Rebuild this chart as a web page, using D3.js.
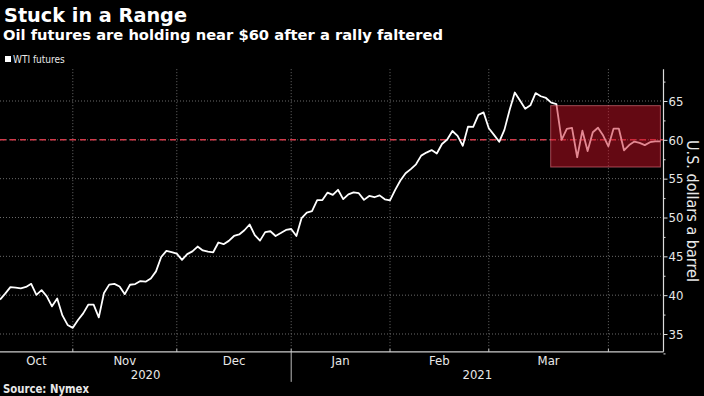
<!DOCTYPE html>
<html lang="en">
<head>
<meta charset="UTF-8">
<title>Stuck in a Range</title>
<style>
  body { margin:0; background:#000; }
  svg { display:block; background:#000; }
  text { fill:#e8e8e8; }
  .title { font-family:"DejaVu Sans", sans-serif; font-weight:bold; fill:#fff; }
  .cond { font-family:"DejaVu Sans Condensed", "DejaVu Sans", sans-serif; }
  .grid line { stroke:#6a6a6a; stroke-dasharray:1,2; }
</style>
</head>
<body>
<svg id="chart" width="704" height="396"></svg>
<script src="https://cdn.jsdelivr.net/npm/d3@7"></script>
<script>
// WTI futures settles, trading days from mid-Oct 2020 to mid-Apr 2021
var oct2020 = [39.43, 40.20, 41.04, 40.96, 40.88, 41.06, 41.46, 40.03, 40.64, 39.85, 38.56, 39.57, 37.39, 36.17, 35.79];
var nov2020 = [36.81, 37.66, 38.79, 38.79, 37.14, 40.29, 41.36, 41.45, 41.12, 40.13, 41.34, 41.43, 41.82, 41.74, 42.15, 43.06, 44.91, 45.71, 45.53, 45.34];
var dec2020 = [44.55, 45.28, 45.64, 46.26, 45.76, 45.60, 45.52, 46.78, 46.57, 46.99, 47.62, 47.82, 48.36, 49.10, 47.74, 47.02, 48.12, 48.23, 47.62, 48.00, 48.40, 48.52];
var jan2021 = [47.62, 49.93, 50.63, 50.83, 52.24, 52.25, 53.21, 52.91, 53.57, 52.36, 52.98, 53.24, 53.13, 52.27, 52.77, 52.61, 52.85, 52.34, 52.20];
var feb2021 = [53.55, 54.76, 55.69, 56.23, 56.85, 57.97, 58.36, 58.68, 58.24, 59.47, 60.05, 61.14, 60.52, 59.24, 61.70, 61.67, 63.22, 63.53, 61.50];
var mar2021 = [60.64, 59.75, 61.28, 63.83, 66.09, 65.05, 64.01, 64.44, 66.02, 65.61, 65.39, 64.80, 64.60, 60.00, 61.42, 61.55, 57.76, 61.18, 58.56, 60.97, 61.56, 60.55, 59.16];
var apr2021 = [61.45, 61.45, 58.65, 59.33, 59.77, 59.60, 59.32, 59.70, 59.80, 59.80];

var months = [oct2020, nov2020, dec2020, jan2021, feb2021, mar2021, apr2021];
var monthLabels = ['Oct', 'Nov', 'Dec', 'Jan', 'Feb', 'Mar', ''];
var yearLabels = ['2020', '2021'];
var yearStartMonth = [0, 3];        // index into months where each year starts
var yTicks = [35, 40, 45, 50, 55, 60, 65];
var yMinorTicks = [32.5, 37.5, 42.5, 47.5, 52.5, 57.5, 62.5, 67.5];
var refLevel = 60;
var rangeBox = {fromMonth: 5, fromDay: 11, low: 56.5, high: 64.4};  // Mar 16 onward

var prices = [].concat.apply([], months);

// month ends (index of last trading day in each month)
var monthEnds = [];
var acc = 0;
months.forEach(function(m){ acc += m.length; monthEnds.push(acc - 1); });

var svg = d3.select('#chart');
var axisX = 663.5;

var x = d3.scaleLinear().domain([0, prices.length - 1]).range([0, 660.4]);
var y = d3.scaleLinear().domain([35, 65]).range([334, 101]);
var yTop = y(69.1), yBot = y(32.7);

// horizontal grid
svg.append('g').attr('class', 'grid')
  .selectAll('line').data(yTicks).enter().append('line')
  .attr('x1', 0).attr('x2', axisX)
  .attr('y1', d => y(d)).attr('y2', d => y(d));

// vertical grid at month boundaries
var bounds = monthEnds.slice(0, -1);
svg.append('g').attr('class', 'grid')
  .selectAll('line').data(bounds).enter().append('line')
  .attr('x1', d => x(d)).attr('x2', d => x(d))
  .attr('y1', yTop).attr('y2', yBot);

// reference level
svg.append('line')
  .attr('x1', 0).attr('x2', axisX)
  .attr('y1', y(refLevel)).attr('y2', y(refLevel))
  .style('stroke', '#d23a4a').style('stroke-width', 1.5)
  .style('stroke-dasharray', '6,4');

// price line
var line = d3.line().x((d, i) => x(i)).y(d => y(d));
svg.append('path').datum(prices)
  .attr('d', line)
  .style('fill', 'none').style('stroke', '#fff')
  .style('stroke-width', 1.8).style('stroke-linejoin', 'round');

// range box
var boxStart = monthEnds[rangeBox.fromMonth - 1] + 1 + rangeBox.fromDay;
svg.append('rect')
  .attr('x', x(boxStart) - 0.5)
  .attr('y', y(rangeBox.high))
  .attr('width', x(prices.length - 1) - x(boxStart) + 0.5)
  .attr('height', y(rangeBox.low) - y(rangeBox.high))
  .style('fill', 'rgba(200,18,38,0.5)')
  .style('stroke', 'rgba(240,120,135,0.6)').style('stroke-width', 1);

// right axis
var yAxis = svg.append('g').attr('transform', 'translate(' + axisX + ',0)')
  .call(d3.axisRight(y).tickValues(yTicks).tickSize(4).tickPadding(1));
yAxis.select('.domain').remove();
yAxis.selectAll('.tick line').style('stroke', '#ddd');
yAxis.selectAll('.tick text').attr('class', 'cond')
  .style('font-size', '13px').style('fill', '#e8e8e8');

var yMinor = svg.append('g').attr('transform', 'translate(' + axisX + ',0)')
  .call(d3.axisRight(y).tickValues(yMinorTicks).tickSize(2).tickFormat(''));
yMinor.select('.domain').remove();
yMinor.selectAll('.tick line').style('stroke', '#ddd');

svg.append('line')
  .attr('x1', axisX).attr('x2', axisX).attr('y1', yTop).attr('y2', yBot)
  .style('stroke', '#ddd').style('stroke-width', 1.2);

// titles / text fitting helper
function fit(sel, w){
  var len = sel.node().getComputedTextLength();
  if (Math.abs(len - w) > 1) sel.attr('textLength', w).attr('lengthAdjust', 'spacingAndGlyphs');
  return sel;
}

fit(svg.append('text').attr('class', 'cond')
  .attr('transform', 'translate(687,211) rotate(90)')
  .attr('text-anchor', 'middle')
  .style('font-size', '15px')
  .text('U.S. dollars a barrel'), 142);

// bottom axis
svg.append('line')
  .attr('x1', 0).attr('x2', axisX).attr('y1', yBot).attr('y2', yBot)
  .style('stroke', '#ccc').style('stroke-width', 1.2);

svg.append('g').selectAll('line').data(bounds).enter().append('line')
  .attr('x1', d => x(d)).attr('x2', d => x(d))
  .attr('y1', yBot - 3).attr('y2', yBot)
  .style('stroke', '#ccc');

svg.append('g').selectAll('text').data(monthLabels).enter().append('text')
  .attr('class', 'cond')
  .attr('x', (d, i) => {
    var a = i === 0 ? 0 : x(monthEnds[i - 1]);
    return (a + x(monthEnds[i])) / 2;
  })
  .attr('y', 365)
  .attr('text-anchor', 'middle')
  .style('font-size', '13px')
  .text(d => d);

// year split
var yearSplit = x(monthEnds[yearStartMonth[1] - 1]);
svg.append('line')
  .attr('x1', yearSplit).attr('x2', yearSplit).attr('y1', yBot).attr('y2', yBot + 30)
  .style('stroke', '#bbb');

svg.append('g').selectAll('text').data(yearLabels).enter().append('text')
  .attr('class', 'cond')
  .attr('x', (d, i) => i === 0 ? yearSplit / 2 : (yearSplit + axisX) / 2)
  .attr('y', 379)
  .attr('text-anchor', 'middle')
  .style('font-size', '13px')
  .text(d => d);

fit(svg.append('text').attr('class', 'title').attr('x', 4).attr('y', 22)
  .style('font-size', '19px').text('Stuck in a Range'), 183);
fit(svg.append('text').attr('class', 'title').attr('x', 3).attr('y', 40)
  .style('font-size', '14.5px').text('Oil futures are holding near $60 after a rally faltered'), 440);

// legend
svg.append('rect').attr('x', 5).attr('y', 56).attr('width', 6).attr('height', 6)
  .style('fill', '#fff');
svg.append('text').attr('class', 'cond').attr('x', 13).attr('y', 62.5)
  .style('font-size', '10px').text('WTI futures');

// source
fit(svg.append('text').attr('class', 'title').attr('x', 3).attr('y', 393)
  .style('font-size', '11.5px').style('fill', '#e8e8e8').text('Source: Nymex'), 86);
</script>
</body>
</html>
